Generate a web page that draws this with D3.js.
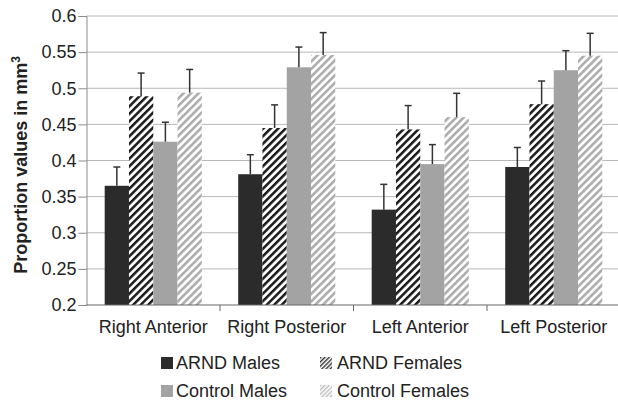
<!DOCTYPE html>
<html lang="en">
<head>
<meta charset="UTF-8">
<title>Proportion values</title>
<script src="https://cdn.jsdelivr.net/npm/d3@7"></script>
<style>
    body { margin: 0; background: #ffffff; }
    svg text { font-family: "Liberation Sans", Arial, sans-serif; fill: #222; }
</style>
</head>
<body>
<svg id="chart" width="618" height="405"></svg>
<script>
    const categories = ["Right Anterior", "Right Posterior", "Left Anterior", "Left Posterior"];
    const seriesNames = ["ARND Males", "ARND Females", "Control Males", "Control Females"];

    const arndMales      = [0.365, 0.381, 0.332, 0.391];
    const arndFemales    = [0.489, 0.445, 0.443, 0.478];
    const controlMales   = [0.426, 0.529, 0.395, 0.525];
    const controlFemales = [0.494, 0.546, 0.460, 0.545];

    // upper error bar lengths
    const arndMalesErr      = [0.026, 0.027, 0.035, 0.027];
    const arndFemalesErr    = [0.032, 0.032, 0.033, 0.032];
    const controlMalesErr   = [0.027, 0.028, 0.027, 0.027];
    const controlFemalesErr = [0.032, 0.031, 0.033, 0.031];

    const yTicks = [0.2, 0.25, 0.3, 0.35, 0.4, 0.45, 0.5, 0.55, 0.6];

    const values = [arndMales, arndFemales, controlMales, controlFemales];
    const errors = [arndMalesErr, arndFemalesErr, controlMalesErr, controlFemalesErr];
    const fills = ["#2b2b2b", "url(#hatchDark)", "#a3a3a3", "url(#hatchLight)"];
    const legendFills = ["#2b2b2b", "url(#hatchDarkSmall)", "#a3a3a3", "url(#hatchLightSmall)"];

    const rows = [];
    categories.forEach((c, i) => {
        seriesNames.forEach((s, j) => {
            rows.push({ category: c, series: s, value: values[j][i], err: errors[j][i], fill: fills[j] });
        });
    });

    const svg = d3.select("#chart");
    const plotLeft = 86.5, plotRight = 620.5, plotTop = 16, plotBottom = 305;

    const x = d3.scaleBand().domain(categories).range([plotLeft, plotRight]);
    const xInner = d3.scaleBand().domain(seriesNames).range([0, x.bandwidth()]).paddingOuter(0.75);
    const y = d3.scaleLinear().domain([0.2, 0.6]).range([plotBottom, plotTop]);

    // patterns
    const defs = svg.append("defs");
    function hatch(id, size, thick, color) {
        const p = defs.append("pattern")
            .attr("id", id)
            .attr("patternUnits", "userSpaceOnUse")
            .attr("width", size).attr("height", size)
            .attr("patternTransform", "rotate(45)");
        p.append("rect").attr("width", size).attr("height", size).attr("fill", "#fff");
        p.append("rect").attr("width", thick).attr("height", size).attr("fill", color);
    }
    hatch("hatchDark", 5.3, 2.5, "#1a1a1a");
    hatch("hatchLight", 5.3, 2.5, "#ababab");
    hatch("hatchDarkSmall", 3, 1.4, "#333");
    hatch("hatchLightSmall", 3, 1.4, "#bbb");

    // gridlines
    svg.append("g")
        .selectAll("line")
        .data(yTicks.slice(1))
        .join("line")
        .attr("x1", plotLeft).attr("x2", plotRight)
        .attr("y1", d => y(d)).attr("y2", d => y(d))
        .attr("stroke", "#b8b8b8")
        .attr("stroke-width", 1);

    // y axis
    const yAxis = svg.append("g")
        .attr("transform", `translate(${plotLeft},0)`)
        .call(d3.axisLeft(y).tickValues(yTicks).tickSize(8).tickPadding(2)
            .tickFormat(d => String(+d.toFixed(2))));
    yAxis.select(".domain").attr("stroke", "#8a8a8a");
    yAxis.selectAll(".tick line").attr("stroke", "#8a8a8a");
    yAxis.selectAll("text").style("font-size", "18px").attr("fill", "#222");

    // bars
    const groups = svg.append("g").selectAll("g")
        .data(rows)
        .join("g")
        .attr("transform", d => `translate(${x(d.category) + xInner(d.series)},0)`);

    groups.append("rect")
        .attr("x", 0)
        .attr("width", xInner.bandwidth())
        .attr("y", d => y(d.value))
        .attr("height", d => y(0.2) - y(d.value))
        .attr("fill", d => d.fill);

    // error bars
    const bw = xInner.bandwidth();
    groups.append("line")
        .attr("x1", bw / 2).attr("x2", bw / 2)
        .attr("y1", d => y(d.value)).attr("y2", d => y(d.value + d.err))
        .attr("stroke", "#333").attr("stroke-width", 1.5);
    groups.append("line")
        .attr("x1", bw / 2 - 3.5).attr("x2", bw / 2 + 3.5)
        .attr("y1", d => y(d.value + d.err)).attr("y2", d => y(d.value + d.err))
        .attr("stroke", "#333").attr("stroke-width", 1.5);

    // x axis
    svg.append("line")
        .attr("x1", plotLeft).attr("x2", plotRight)
        .attr("y1", plotBottom).attr("y2", plotBottom)
        .attr("stroke", "#666").attr("stroke-width", 1.2);
    svg.append("g").selectAll("line")
        .data(categories.slice(1))
        .join("line")
        .attr("x1", d => x(d)).attr("x2", d => x(d))
        .attr("y1", plotBottom).attr("y2", plotBottom + 6)
        .attr("stroke", "#666");
    svg.append("g").selectAll("text")
        .data(categories)
        .join("text")
        .attr("x", d => x(d) + x.bandwidth() / 2)
        .attr("y", 333)
        .attr("text-anchor", "middle")
        .style("font-size", "18px")
        .text(d => d);

    // y label
    const yLabel = svg.append("text")
        .attr("transform", "translate(27,165) rotate(-90)")
        .attr("text-anchor", "middle")
        .style("font-size", "18px")
        .style("font-weight", "bold");
    yLabel.append("tspan").text("Proportion values in mm");
    yLabel.append("tspan").attr("dy", -7).style("font-size", "12px").text("3");

    // legend
    const legendPos = [[161, 357], [320, 357], [161, 385], [320, 385]];
    const legend = svg.append("g").selectAll("g")
        .data(seriesNames)
        .join("g")
        .attr("transform", (d, i) => `translate(${legendPos[i][0]},${legendPos[i][1]})`);
    legend.append("rect")
        .attr("width", 12).attr("height", 12)
        .attr("fill", (d, i) => legendFills[i]);
    legend.append("text")
        .attr("x", (d, i) => i % 2 === 0 ? 15 : 17)
        .attr("y", 12)
        .style("font-size", "18px")
        .text(d => d);
</script>
</body>
</html>
